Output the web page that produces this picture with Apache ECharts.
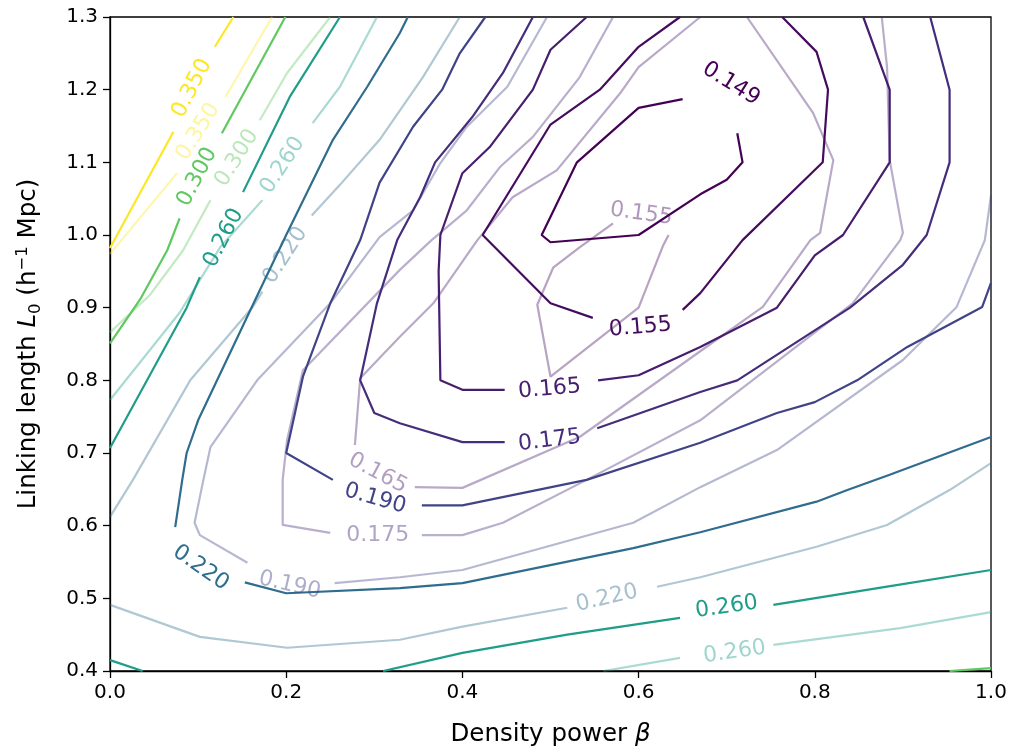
<!DOCTYPE html>
<html><head><meta charset="utf-8">
<script src="https://cdn.jsdelivr.net/npm/echarts@6/dist/echarts.min.js"></script>
<style>html,body{margin:0;padding:0;background:#fff}#c{width:1016px;height:751px}</style>
</head><body><div id="c"></div>
<script>
// axis ranges / ticks
const xTicks = [0.0, 0.2, 0.4, 0.6, 0.8, 1.0];
const yTicks = [0.4, 0.5, 0.6, 0.7, 0.8, 0.9, 1.0, 1.1, 1.2, 1.3];
// contour levels and their colours (viridis)
const levels = [0.149, 0.155, 0.165, 0.175, 0.190, 0.220, 0.260, 0.300, 0.350];
const levelColors = ['#440154','#450c5e','#471d6e','#462d7b','#404486','#2f6d8e','#1f9d89','#60c860','#fde725'];

// ---- solid contour lines [beta, L0] ----
const s149 = [[0.65,1.187],[0.6,1.175],[0.53,1.1],[0.49,1.0],[0.5,0.99],[0.6,1.0],[0.67,1.056],[0.7,1.076],[0.718,1.1],[0.712,1.14]];
const s155a = [[0.647,1.3],[0.6,1.259],[0.556,1.2],[0.5,1.152],[0.423,1.0],[0.5,0.906],[0.548,0.886]];
const s155b = [[0.65,0.897],[0.67,0.92],[0.718,0.993],[0.809,1.1],[0.815,1.2],[0.802,1.252],[0.763,1.3]];
const s165a = [[0.541,1.3],[0.5,1.255],[0.48,1.2],[0.431,1.121],[0.4,1.085],[0.375,1.0],[0.373,0.95],[0.375,0.8],[0.4,0.787],[0.448,0.787]];
const s165b = [[0.554,0.8],[0.6,0.807],[0.67,0.846],[0.757,0.9],[0.8,0.972],[0.832,1.0],[0.885,1.1],[0.885,1.2],[0.855,1.3]];
const s175a = [[0.48,1.3],[0.446,1.223],[0.411,1.162],[0.369,1.1],[0.352,1.052],[0.326,0.993],[0.303,0.906],[0.284,0.8],[0.3,0.755],[0.329,0.741],[0.4,0.715],[0.448,0.715]];
const s175b = [[0.553,0.734],[0.67,0.784],[0.712,0.8],[0.84,0.9],[0.9,0.959],[0.927,1.0],[0.953,1.1],[0.953,1.2],[0.931,1.3]];
const s190a = [[0.426,1.3],[0.397,1.25],[0.377,1.2],[0.344,1.149],[0.306,1.072],[0.284,0.993],[0.25,0.906],[0.219,0.805],[0.2,0.7],[0.253,0.663]];
const s190b = [[0.354,0.628],[0.4,0.628],[0.541,0.663],[0.67,0.714],[0.757,0.755],[0.8,0.77],[0.848,0.8],[0.905,0.846],[0.99,0.901],[1.0,0.934]];
const s220a = [[0.338,1.3],[0.329,1.278],[0.292,1.204],[0.253,1.131],[0.2,1.0],[0.17,0.924],[0.1,0.745],[0.087,0.7],[0.082,0.663],[0.074,0.598]];
const s220b = [[0.153,0.522],[0.2,0.507],[0.329,0.514],[0.4,0.521],[0.594,0.569],[0.67,0.591],[0.802,0.633],[0.837,0.649],[0.885,0.67],[1.0,0.722]];
const s260a = [[0.261,1.3],[0.204,1.19],[0.151,1.059]];
const s260b = [[0.102,0.942],[0.087,0.9],[0.0,0.707]];
const s260c = [[0.0,0.415],[0.037,0.4]];
const s260d = [[0.31,0.4],[0.4,0.425],[0.519,0.45],[0.647,0.473]];
const s260e = [[0.753,0.491],[0.882,0.516],[1.0,0.539]];
const s300a = [[0.199,1.3],[0.127,1.14]];
const s300b = [[0.079,1.023],[0.065,0.979],[0.034,0.911],[0.0,0.851]];
const s300c = [[0.953,0.4],[1.0,0.404]];
const s350a = [[0.14,1.3],[0.119,1.259]];
const s350b = [[0.072,1.142],[0.0,0.982]];

// ---- faint contour lines ----
const l155 = [[0.571,1.016],[0.533,0.983],[0.503,0.955],[0.485,0.904],[0.5,0.805],[0.6,0.9],[0.628,0.986],[0.634,1.0]];
const l165a = [[0.67,1.3],[0.6,1.231],[0.579,1.195],[0.507,1.089],[0.457,1.052],[0.417,0.993],[0.367,0.906],[0.329,0.86],[0.284,0.803],[0.278,0.711]];
const l165b = [[0.346,0.653],[0.4,0.652],[0.533,0.722],[0.67,0.84],[0.741,0.901],[0.795,0.993],[0.806,1.003],[0.821,1.103],[0.798,1.168],[0.723,1.3]];
const l175a = [[0.571,1.3],[0.533,1.217],[0.48,1.135],[0.443,1.094],[0.405,1.034],[0.365,0.993],[0.329,0.952],[0.219,0.814],[0.201,0.718],[0.196,0.663],[0.196,0.601],[0.25,0.59]];
const l175b = [[0.354,0.587],[0.4,0.587],[0.446,0.604],[0.541,0.663],[0.67,0.745],[0.843,0.906],[0.897,0.993],[0.9,1.003],[0.885,1.103],[0.882,1.231],[0.876,1.3]];
const l190a = [[0.496,1.3],[0.451,1.204],[0.405,1.149],[0.375,1.099],[0.344,1.034],[0.306,0.997],[0.25,0.906],[0.167,0.8],[0.114,0.708],[0.106,0.663],[0.096,0.604],[0.102,0.587],[0.156,0.549]];
const l190b = [[0.255,0.521],[0.329,0.529],[0.4,0.539],[0.594,0.604],[0.67,0.653],[0.757,0.704],[0.9,0.828],[0.961,0.901],[0.993,0.993],[1.0,1.055]];
const l220a = [[0.397,1.3],[0.355,1.217],[0.306,1.131],[0.261,1.069],[0.229,1.027]];
const l220b = [[0.173,0.922],[0.162,0.901],[0.091,0.8],[0.026,0.663],[0.0,0.612]];
const l220c = [[0.0,0.491],[0.102,0.447],[0.201,0.432],[0.329,0.443],[0.4,0.461],[0.519,0.487]];
const l220d = [[0.621,0.516],[0.67,0.529],[0.802,0.571],[0.882,0.601],[0.953,0.649],[1.0,0.686]];
const l260a = [[0.303,1.3],[0.261,1.204],[0.23,1.154]];
const l260b = [[0.173,1.048],[0.125,0.983],[0.079,0.893],[0.0,0.773]];
const l260c = [[0.56,0.4],[0.647,0.418]];
const l260d = [[0.753,0.436],[0.897,0.459],[1.0,0.481]];
const l300a = [[0.25,1.3],[0.201,1.223],[0.17,1.158]];
const l300b = [[0.114,1.048],[0.083,0.979],[0.045,0.917],[0.0,0.866]];
const l350a = [[0.184,1.3],[0.131,1.19]];
const l350b = [[0.076,1.085],[0.0,0.974]];

// inline contour labels: [beta, L0, angle, level]
const solidLabels = [
  [0.705,1.208,-32,0.149],[0.602,0.873,5,0.155],[0.499,0.788,5,0.165],[0.499,0.717,7,0.175],
  [0.301,0.637,-16,0.190],[0.103,0.542,-35,0.220],[0.129,0.996,63,0.260],[0.700,0.488,8,0.260],
  [0.099,1.080,63,0.300],[0.093,1.202,63,0.350]
];
const lightLabels = [
  [0.603,1.029,-8,0.155],[0.304,0.672,-28,0.165],[0.304,0.587,0,0.175],[0.204,0.518,-13,0.190],
  [0.199,0.972,57,0.220],[0.564,0.500,13,0.220],[0.196,1.096,57,0.260],[0.709,0.426,8,0.260],
  [0.144,1.106,58,0.300],[0.100,1.142,58,0.350]
];

const solidSegs = [[0.149,s149],[0.155,s155a],[0.155,s155b],[0.165,s165a],[0.165,s165b],[0.175,s175a],[0.175,s175b],
  [0.190,s190a],[0.190,s190b],[0.220,s220a],[0.220,s220b],[0.260,s260a],[0.260,s260b],[0.260,s260c],[0.260,s260d],[0.260,s260e],
  [0.300,s300a],[0.300,s300b],[0.300,s300c],[0.350,s350a],[0.350,s350b]];
const lightSegs = [[0.155,l155],[0.165,l165a],[0.165,l165b],[0.175,l175a],[0.175,l175b],[0.190,l190a],[0.190,l190b],
  [0.220,l220a],[0.220,l220b],[0.220,l220c],[0.220,l220d],[0.260,l260a],[0.260,l260b],[0.260,l260c],[0.260,l260d],
  [0.300,l300a],[0.300,l300b],[0.350,l350a],[0.350,l350b]];

const FONT = '"DejaVu Sans", sans-serif';
const LIGHT_ALPHA = 0.38;
function col(lv, a) {
  const i = levels.indexOf(lv);
  const h = levelColors[i];
  const r = parseInt(h.slice(1,3),16), g = parseInt(h.slice(3,5),16), b = parseInt(h.slice(5,7),16);
  return 'rgba(' + r + ',' + g + ',' + b + ',' + a + ')';
}

const series = [];
lightSegs.forEach(([lv, pts]) => series.push({
  type:'line', data:pts, symbol:'none', showSymbol:false, silent:true, z:2,
  lineStyle:{color:col(lv, LIGHT_ALPHA), width:2.2}
}));
solidSegs.forEach(([lv, pts]) => series.push({
  type:'line', data:pts, symbol:'none', showSymbol:false, silent:true, z:3,
  lineStyle:{color:col(lv, 1), width:2.2}
}));
function labelSeries(data, alpha) {
  return {
    type:'custom', coordinateSystem:'cartesian2d', data:data, silent:true, z:5, clip:false,
    encode:{x:0, y:1},
    renderItem: function (params, api) {
      const p = api.coord([api.value(0), api.value(1)]);
      const lv = api.value(3);
      return {
        type:'text', x:p[0], y:p[1], rotation: api.value(2) * Math.PI / 180,
        style:{ text: lv.toFixed(3), fill: col(lv, alpha), font: '22px ' + FONT, align:'center', verticalAlign:'middle' }
      };
    }
  };
}
series.push(labelSeries(lightLabels, LIGHT_ALPHA + 0.05));
series.push(labelSeries(solidLabels, 1));

const chart = echarts.init(document.getElementById('c'), null, {renderer:'canvas'});
chart.setOption({
  animation:false,
  backgroundColor:'#fff',
  grid:{left:110, right:25, top:17, bottom:80, show:true, borderColor:'#000', borderWidth:1.3,
        backgroundColor:'rgba(0,0,0,0)', containLabel:false, outerBoundsMode:'none'},
  xAxis:{
    type:'value', min:xTicks[0], max:xTicks[xTicks.length-1], interval:0.2,
    axisLine:{show:true, onZero:false, lineStyle:{color:'#000', width:1.3}},
    axisTick:{show:true, inside:false, length:7, lineStyle:{color:'#000', width:1.3}},
    axisLabel:{fontSize:20, fontFamily:FONT, color:'#000', margin:12, formatter:v => v.toFixed(1)},
    splitLine:{show:false},
    name:'{a|Density power }{i|β}', nameLocation:'middle', nameGap:51,
    nameTextStyle:{rich:{a:{fontSize:24.5, fontFamily:FONT, color:'#000'}, i:{fontSize:24.5, fontFamily:FONT, fontStyle:'italic', color:'#000'}}}
  },
  yAxis:{
    type:'value', min:yTicks[0], max:yTicks[yTicks.length-1], interval:0.1,
    axisLine:{show:true, onZero:false, lineStyle:{color:'#000', width:1.3}},
    axisTick:{show:true, inside:false, length:7, lineStyle:{color:'#000', width:1.3}},
    axisLabel:{fontSize:20, fontFamily:FONT, color:'#000', margin:12, formatter:v => v.toFixed(1)},
    splitLine:{show:false},
    name:'{a|Linking length }{i|L}{s|0}{a| (h}{p|−1}{a| Mpc)}', nameLocation:'middle', nameRotate:90, nameGap:66,
    nameTextStyle:{rich:{
      a:{fontSize:24.5, fontFamily:FONT, color:'#000', lineHeight:30},
      i:{fontSize:24.5, fontFamily:FONT, fontStyle:'italic', color:'#000', lineHeight:30},
      s:{fontSize:16.5, fontFamily:FONT, color:'#000', verticalAlign:'bottom', lineHeight:18},
      p:{fontSize:16.5, fontFamily:FONT, color:'#000', verticalAlign:'top', lineHeight:18}
    }}
  },
  series:series
});
</script>
</body></html>
